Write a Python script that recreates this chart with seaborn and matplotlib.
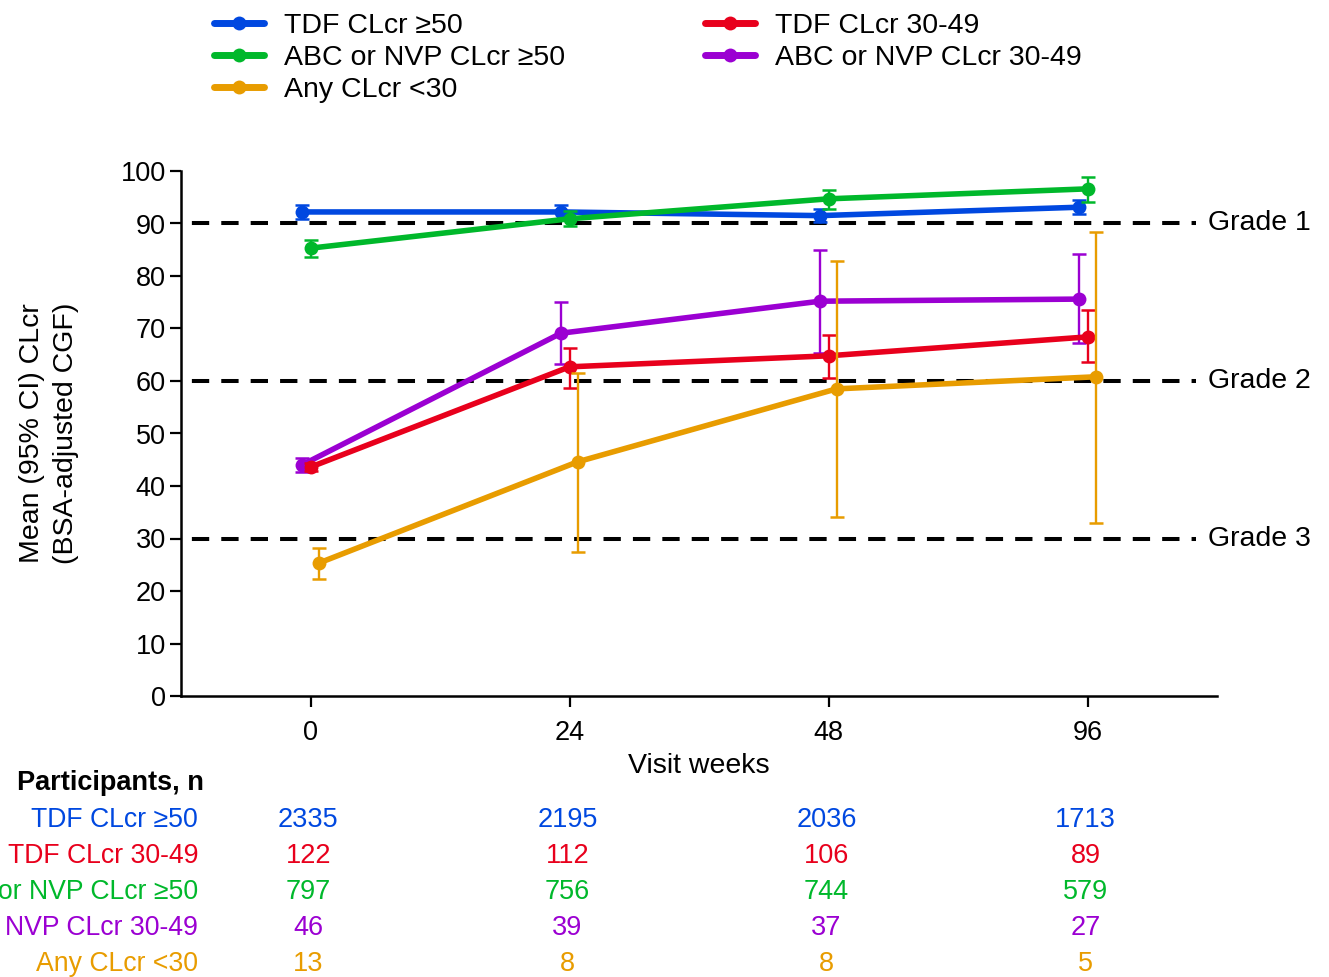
import numpy as np
import pandas as pd
import matplotlib
matplotlib.use("Agg")
import matplotlib.pyplot as plt
import matplotlib.transforms as mtransforms
import seaborn as sns

# ---------------- data ----------------
weeks = ["0", "24", "48", "96"]
groups = ["TDF CLcr \u226550", "ABC or NVP CLcr \u226550", "Any CLcr <30",
          "TDF CLcr 30-49", "ABC or NVP CLcr 30-49"]

tdf50_mean = [92.2, 92.2, 91.5, 93.1]
tdf50_lo = [90.8, 90.9, 90.3, 91.8]
tdf50_hi = [93.6, 93.5, 92.7, 94.4]

abc50_mean = [85.3, 90.9, 94.7, 96.6]
abc50_lo = [83.7, 89.5, 92.8, 94.1]
abc50_hi = [86.9, 92.3, 96.4, 98.9]

any30_mean = [25.3, 44.6, 58.5, 60.8]
any30_lo = [22.3, 27.4, 34.1, 33.0]
any30_hi = [28.2, 61.5, 82.9, 88.4]

tdf3049_mean = [43.6, 62.7, 64.8, 68.4]
tdf3049_lo = [42.8, 58.7, 60.6, 63.6]
tdf3049_hi = [44.4, 66.3, 68.8, 73.5]

abc3049_mean = [44.0, 69.1, 75.2, 75.6]
abc3049_lo = [42.7, 63.2, 65.3, 67.2]
abc3049_hi = [45.3, 75.0, 85.0, 84.2]

n_tdf50 = [2335, 2195, 2036, 1713]
n_tdf3049 = [122, 112, 106, 89]
n_abc50 = [797, 756, 744, 579]
n_abc3049 = [46, 39, 37, 27]
n_any30 = [13, 8, 8, 5]

grade_levels = [90, 60, 30]
grade_labels = ["Grade 1", "Grade 2", "Grade 3"]

# ---------------- style ----------------
colors = {
    groups[0]: "#0048E0",
    groups[1]: "#00B82B",
    groups[2]: "#E89C00",
    groups[3]: "#E8001C",
    groups[4]: "#9B00D2",
}
dodge = {groups[0]: -0.033, groups[1]: 0.0, groups[2]: 0.031,
         groups[3]: 0.0, groups[4]: -0.033}
zorders = {groups[0]: 3, groups[1]: 4, groups[4]: 5, groups[3]: 6, groups[2]: 7}

series = {
    groups[0]: (tdf50_mean, tdf50_lo, tdf50_hi),
    groups[1]: (abc50_mean, abc50_lo, abc50_hi),
    groups[2]: (any30_mean, any30_lo, any30_hi),
    groups[3]: (tdf3049_mean, tdf3049_lo, tdf3049_hi),
    groups[4]: (abc3049_mean, abc3049_lo, abc3049_hi),
}

rows = []
for g in groups:
    m, lo, hi = series[g]
    for i, w in enumerate(weeks):
        rows.append({"group": g, "week": w, "pos": i + dodge[g],
                     "mean": m[i], "lo": lo[i], "hi": hi[i]})
df = pd.DataFrame(rows)

sns.set_style("ticks")
plt.rcParams["font.family"] = ["Liberation Sans", "DejaVu Sans"]
plt.rcParams["text.color"] = "black"
plt.rcParams["axes.labelcolor"] = "black"
plt.rcParams["xtick.color"] = "black"
plt.rcParams["ytick.color"] = "black"
plt.rcParams["font.size"] = 20

fig = plt.figure(figsize=(13.29, 9.77), dpi=100)
W, H = 1329, 977
ax = fig.add_axes([181 / W, 1 - 696 / H, (1217 - 181) / W, (696 - 171) / H])

sns.lineplot(data=df, x="pos", y="mean", hue="group", hue_order=groups,
             palette=colors, marker="o", markersize=10, markeredgewidth=0,
             linewidth=4.0, ax=ax, legend=True, sort=False, estimator=None)

for line, g in zip(ax.get_lines(), groups):
    line.set_zorder(zorders[g])

for g in groups:
    sub = df[df["group"] == g]
    yerr = np.vstack([sub["mean"] - sub["lo"], sub["hi"] - sub["mean"]])
    ax.errorbar(sub["pos"], sub["mean"], yerr=yerr, fmt="none",
                ecolor=colors[g], elinewidth=1.7, capsize=5, capthick=1.8,
                zorder=zorders[g] - 0.5)

gtrans = mtransforms.blended_transform_factory(ax.transAxes, ax.transData)
for lvl, lab in zip(grade_levels, grade_labels):
    ax.axhline(lvl, xmin=0, xmax=0.98, color="black", lw=2.9,
               linestyle=(4.6, (4.3, 3.0)), zorder=2, clip_on=False)
    ax.text(0.991, lvl, lab, transform=gtrans, ha="left", va="center",
            fontsize=20.5)

ax.set_xlim(-0.5, 3.5)
ax.set_ylim(0, 100)
ax.set_xticks(range(len(weeks)))
ax.set_xticklabels(weeks)
ax.set_yticks(range(0, 101, 10))
ax.tick_params(axis="y", labelsize=19.5, length=8, width=1.6, direction="out", pad=3)
ax.tick_params(axis="x", labelsize=19.5, length=8, width=1.6, direction="out", pad=9)
for s in ["left", "bottom"]:
    ax.spines[s].set_linewidth(1.8)
    ax.spines[s].set_color("black")
sns.despine(ax=ax)
ax.set_xlabel("Visit weeks", fontsize=20.5, labelpad=5)
ax.set_ylabel("Mean (95% CI) CLcr\n(BSA-adjusted CGF)", fontsize=20.5,
              labelpad=30, linespacing=1.4)

handles, labels = ax.get_legend_handles_labels()
ax.get_legend().remove()
leg = fig.legend(handles, labels, ncol=2, loc="upper left",
                 bbox_to_anchor=(203 / W, 1 - 2 / H), borderaxespad=0.0, frameon=False,
                 fontsize=20.5, handlelength=1.75, handletextpad=0.7,
                 columnspacing=4.9, labelspacing=0.2)
for h in leg.legend_handles:
    h.set_linewidth(5)

# table of participants
trans = mtransforms.blended_transform_factory(ax.transData, fig.transFigure)
fig.text(17 / W, 1 - 783 / H, "Participants, n", fontsize=19.5, fontweight="bold",
         ha="left", va="center")
table_rows = [(groups[0], n_tdf50), (groups[3], n_tdf3049), (groups[1], n_abc50),
              (groups[4], n_abc3049), (groups[2], n_any30)]
for k, (g, ns) in enumerate(table_rows):
    y = 1 - (820 + 36 * k) / H
    fig.text(198 / W, y, g, color=colors[g], fontsize=19.2, ha="right", va="center")
    for i, n in enumerate(ns):
        ax.text(i - 0.008, y, str(n), transform=trans, color=colors[g], fontsize=19.5,
                ha="center", va="center", clip_on=False)

fig.savefig("out.png", dpi=100)
